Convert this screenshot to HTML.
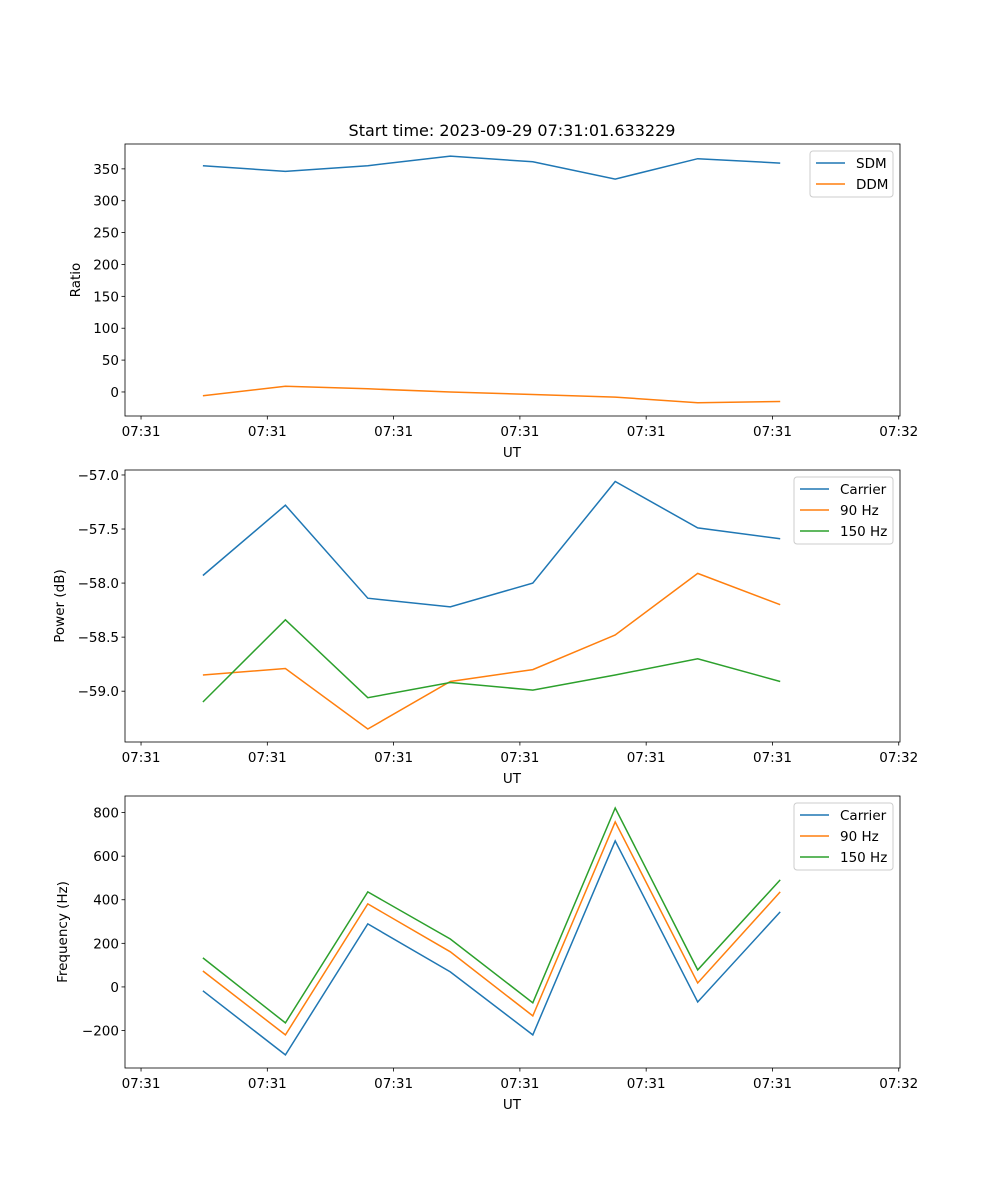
<!DOCTYPE html>
<html><head><meta charset="utf-8"><style>
body{margin:0;background:#fff}
svg{display:block;font-family:"DejaVu Sans","Liberation Sans",sans-serif}
</style></head><body>
<svg id="fig" width="1000" height="1200"></svg>
<script>
const times=[0.49,1.143,1.796,2.449,3.102,3.755,4.408,5.061];
const xTickVals=[0,1,2,3,4,5,6];
const xTickLabels=["07:31","07:31","07:31","07:31","07:31","07:31","07:32"];
const sdm=[355,346,355,370,361,334,366,359];
const ddm=[-6,9,5,0,-4,-8,-17,-15];
const pCarrier=[-57.93,-57.28,-58.14,-58.22,-58.0,-57.06,-57.49,-57.59];
const p90=[-58.85,-58.79,-59.35,-58.91,-58.80,-58.48,-57.91,-58.20];
const p150=[-59.10,-58.34,-59.06,-58.92,-58.99,-58.85,-58.70,-58.91];
const fCarrier=[-18,-312,289,69,-220,670,-69,344];
const f90=[73,-220,381,161,-133,757,18,436];
const f150=[133,-165,436,220,-73,821,78,491];
const ticks1=[0,50,100,150,200,250,300,350];
const ticks2=[-57.0,-57.5,-58.0,-58.5,-59.0];
const ticks3=[-200,0,200,400,600,800];
const NS="http://www.w3.org/2000/svg";
const svg=document.getElementById('fig');
function el(t,a,p){const e=document.createElementNS(NS,t);for(const k in a)e.setAttribute(k,a[k]);(p||svg).appendChild(e);return e;}
const L=125,R=900,XMIN=-0.127,XMAX=6.01;
const xs=v=>L+(v-XMIN)/(XMAX-XMIN)*(R-L);
function panel(name,top,bot,ymin,ymax,ticks,fmt,ylabel,ylabX,series,legend){
  const g=el('g',{});
  
  
  const ys=v=>bot-(v-ymin)/(ymax-ymin)*(bot-top);
  series.forEach(s=>{
    const pts=times.map((t,i)=>xs(t).toFixed(1)+','+ys(s.v[i]).toFixed(1)).join(' ');
    const pl=el('polyline',{points:pts,fill:'none',stroke:s.c,'stroke-width':1.5},g);
    
    
  });
  el('rect',{x:L,y:top,width:R-L,height:bot-top,fill:'none',stroke:'#000','stroke-width':0.8},g);
  xTickVals.forEach((v,i)=>{
    const x=xs(v);
    el('line',{x1:x,x2:x,y1:bot,y2:bot+3.5,stroke:'#000','stroke-width':0.8},g);
    const t=el('text',{x:x,y:bot+20,'font-size':13.5,'text-anchor':'middle'},g);t.textContent=xTickLabels[i];
    
    
  });
  ticks.forEach(v=>{
    const y=ys(v);
    el('line',{x1:L,x2:L-3.5,y1:y,y2:y,stroke:'#000','stroke-width':0.8},g);
    const t=el('text',{x:L-6,y:y+5,'font-size':13.5,'text-anchor':'end'},g);t.textContent=fmt(v);
    
    
  });
  const xl=el('text',{x:512,y:bot+41,'font-size':13.5,'text-anchor':'middle'},g);xl.textContent='UT';
  
  
  const cy=(top+bot)/2;
  const yl=el('text',{x:ylabX,y:cy,'font-size':13.5,'text-anchor':'middle',transform:`rotate(-90 ${ylabX} ${cy})`},g);yl.textContent=ylabel;
  
  
  const lg=el('g',{},g);
  
  
  el('rect',{x:legend.x,y:top+7,width:legend.w,height:series.length*21+4,rx:3,fill:'#fff',stroke:'#ccc','stroke-width':1},lg);
  series.forEach((s,i)=>{
    const y=top+19+i*21;
    el('line',{x1:legend.x+6,x2:legend.x+35,y1:y,y2:y,stroke:s.c,'stroke-width':1.5},lg);
    const t=el('text',{x:legend.x+46,y:y+5,'font-size':13.5},lg);t.textContent=s.k;
    
    
  });
}
const B='#1f77b4',O='#ff7f0e',G='#2ca02c';
const tt=el('text',{x:512,y:136,'font-size':16,'text-anchor':'middle'});tt.textContent='Start time: 2023-09-29 07:31:01.633229';


panel('ratio',144,416,-37.7,389,ticks1,v=>v<0?'\u2212'+(-v):String(v),'Ratio',80,
  [{k:'SDM',v:sdm,c:B},{k:'DDM',v:ddm,c:O}],{x:810,w:83});
panel('power',470,742,-59.47,-56.954,ticks2,v=>'\u2212'+(-v).toFixed(1),'Power (dB)',64,
  [{k:'Carrier',v:pCarrier,c:B},{k:'90 Hz',v:p90,c:O},{k:'150 Hz',v:p150,c:G}],{x:794,w:99});
panel('frequency',796,1068,-372,876,ticks3,v=>v<0?'\u2212'+(-v):String(v),'Frequency (Hz)',67,
  [{k:'Carrier',v:fCarrier,c:B},{k:'90 Hz',v:f90,c:O},{k:'150 Hz',v:f150,c:G}],{x:794,w:99});
</script>
</body></html>
